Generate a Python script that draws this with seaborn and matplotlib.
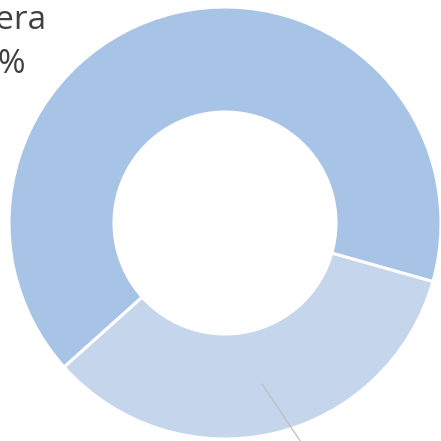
import matplotlib
matplotlib.use("Agg")
import matplotlib.pyplot as plt
import seaborn as sns

# data
labels = ["Primera", "Segunda"]
values = [66, 34]
colors = ["#A7C3E5", "#C5D5EB"]

sns.set_theme(style="white")
plt.rcParams['font.family'] = ['Open Sans', 'DejaVu Sans']

fig = plt.figure(figsize=(4.41, 4.41), dpi=100)
ax = fig.add_axes([0, 0, 1, 1])

ax.pie(values, colors=colors, radius=216, startangle=344.25, counterclock=True,
       wedgeprops=dict(width=105, edgecolor="white", linewidth=2.2))

ax.set_xlim(-225, 216)
ax.set_ylim(-218, 223)
ax.set_aspect("equal")
ax.axis("off")

# labels (the chart is cropped, so most of them fall outside)
ax.text(-178, 194, labels[0], ha="right", va="baseline", fontsize=24, color="#404040")
ax.text(-199, 150, f"{values[0]}%", ha="right", va="baseline", fontsize=24, color="#404040")

ax.plot([37, 90], [-161, -240], color="#BFBFBF", linewidth=0.9, clip_on=False)
ax.text(110, -290, f"{labels[1]}\n{values[1]}%", ha="center", va="top", fontsize=24, color="#404040")

fig.savefig("out.png", dpi=100)
